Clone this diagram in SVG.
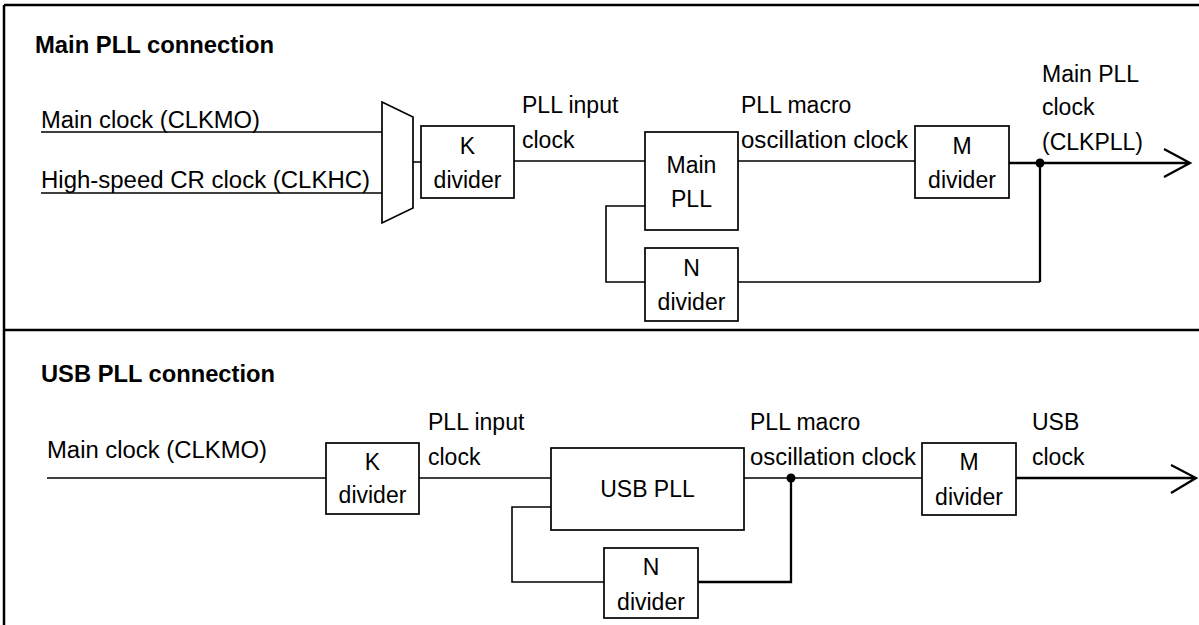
<svg xmlns="http://www.w3.org/2000/svg" width="1199" height="625" viewBox="0 0 1199 625">
<style>
text{font-family:"Liberation Sans",Arial,sans-serif;font-size:23px;fill:#000}
.t{font-weight:bold}
.c{text-anchor:middle}
.box{fill:#fff;stroke:#000;stroke-width:1.7}
.ln{fill:none;stroke:#000;stroke-width:1.6}
.th{fill:none;stroke:#000;stroke-width:2.3}
.fr{fill:none;stroke:#000;stroke-width:2.5}
</style>
<rect width="1199" height="625" fill="#fff"/>
<g id="frame">
<path class="fr" d="M4,5 H1199 M4,5 V625 M4,330 H1199"/>
</g>
<g id="titles">
<text class="t" x="35" y="53" textLength="239" lengthAdjust="spacingAndGlyphs">Main PLL connection</text>
<text class="t" x="41" y="382" textLength="234" lengthAdjust="spacingAndGlyphs">USB PLL connection</text>
</g>
<g id="connectors">
<path class="ln" d="M41,132 H382 M41,193 H382 M413,162 H421 M514,161 H645 M645,206 H606 V282 H645 M738,282 H1040 M738,161 H915"/>
<path class="th" d="M1009,163 H1190 M1040,163 V282 M1164,149 L1190,163 L1164,177"/>
<circle cx="1040" cy="163" r="4.5"/>
<path class="ln" d="M47,478 H326 M419,478 H551 M551,507 H512 V582 H604 M744,478 H922"/>
<path class="th" d="M698,582 H791 V478 M1016,478 H1196 M1171,465 L1196,478 L1171,493"/>
<circle cx="791" cy="478" r="4.5"/>
</g>
<g id="labels">
<text x="41" y="128" textLength="219" lengthAdjust="spacingAndGlyphs">Main clock (CLKMO)</text>
<text x="41" y="188" textLength="329" lengthAdjust="spacingAndGlyphs">High-speed CR clock (CLKHC)</text>
<text x="522" y="113">PLL input</text>
<text x="522" y="148">clock</text>
<text x="741" y="113">PLL macro</text>
<text x="741" y="148" textLength="167" lengthAdjust="spacingAndGlyphs">oscillation clock</text>
<text x="1042" y="82">Main PLL</text>
<text x="1042" y="115">clock</text>
<text x="1042" y="150" textLength="101" lengthAdjust="spacingAndGlyphs">(CLKPLL)</text>
<text x="47" y="458" textLength="220" lengthAdjust="spacingAndGlyphs">Main clock (CLKMO)</text>
<text x="428" y="430">PLL input</text>
<text x="428" y="465">clock</text>
<text x="750" y="430">PLL macro</text>
<text x="750" y="465" textLength="166" lengthAdjust="spacingAndGlyphs">oscillation clock</text>
<text x="1032" y="430">USB</text>
<text x="1032" y="465">clock</text>
</g>
<g id="mux">
<polygon class="box" points="382,102 413,117 413,208 382,223"/>
</g>
<g id="k-divider-main">
<rect class="box" x="421" y="126" width="93" height="72"/>
<text class="c" x="467.5" y="154">K</text>
<text class="c" x="467.5" y="188">divider</text>
</g>
<g id="main-pll">
<rect class="box" x="645" y="132" width="93" height="98"/>
<text class="c" x="691.5" y="173">Main</text>
<text class="c" x="691.5" y="207">PLL</text>
</g>
<g id="n-divider-main">
<rect class="box" x="645" y="248" width="93" height="73"/>
<text class="c" x="691.5" y="276">N</text>
<text class="c" x="691.5" y="310">divider</text>
</g>
<g id="m-divider-main">
<rect class="box" x="915" y="126" width="94" height="72"/>
<text class="c" x="962" y="154">M</text>
<text class="c" x="962" y="188">divider</text>
</g>
<g id="k-divider-usb">
<rect class="box" x="326" y="443" width="93" height="71"/>
<text class="c" x="372.5" y="470">K</text>
<text class="c" x="372.5" y="503">divider</text>
</g>
<g id="usb-pll">
<rect class="box" x="551" y="448" width="193" height="82"/>
<text class="c" x="647.5" y="497">USB PLL</text>
</g>
<g id="n-divider-usb">
<rect class="box" x="604" y="548" width="94" height="70"/>
<text class="c" x="651" y="575">N</text>
<text class="c" x="651" y="610">divider</text>
</g>
<g id="m-divider-usb">
<rect class="box" x="922" y="443" width="94" height="72"/>
<text class="c" x="969" y="470">M</text>
<text class="c" x="969" y="505">divider</text>
</g>
</svg>
